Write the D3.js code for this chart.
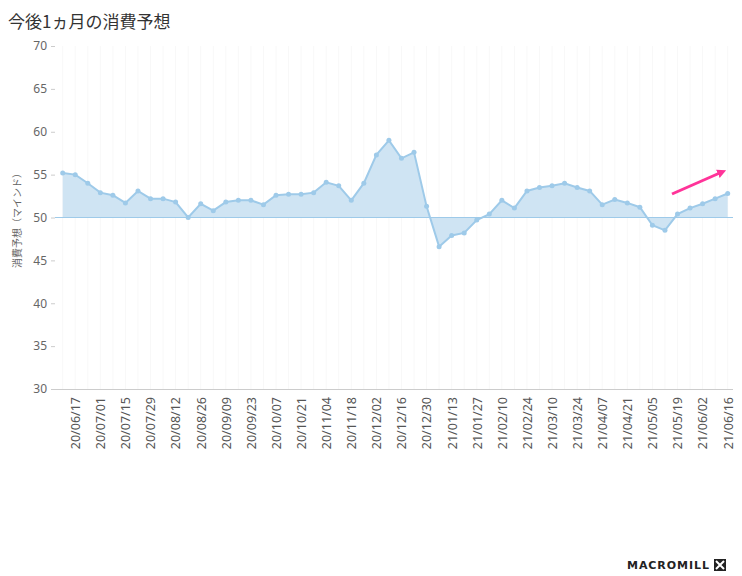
<!DOCTYPE html><html><head><meta charset="utf-8"><script src="https://cdn.jsdelivr.net/npm/d3@7"></script>
<style>body{margin:0;background:#fff;font-family:"Noto Sans CJK JP","Noto Sans",sans-serif}</style></head><body><svg id="c" width="742" height="576"></svg>
<script>
const values=[55.2,55.0,54.0,52.9,52.6,51.7,53.1,52.2,52.2,51.8,50.0,51.6,50.8,51.8,52.0,52.0,51.5,52.6,52.7,52.7,52.9,54.1,53.7,52.0,54.0,57.3,59.0,56.9,57.6,51.3,46.6,47.9,48.2,49.7,50.4,52.0,51.1,53.1,53.5,53.7,54.0,53.5,53.1,51.5,52.1,51.7,51.2,49.1,48.5,50.4,51.1,51.6,52.2,52.8];
const start=new Date(2020,5,10);
const dates=values.map((v,i)=>new Date(start.getTime()+i*7*864e5));
const yTicks=[30,35,40,45,50,55,60,65,70];
const fmt=d3.timeFormat("%y/%m/%d");
const svg=d3.select("#c");
const x=d3.scaleLinear().domain([0,values.length-1]).range([62.7,727.7]);
const y=d3.scaleLinear().domain([30,70]).range([389,46]);
svg.append("text").attr("x",8).attr("y",28).attr("font-size",17).attr("fill","#333").text("今後1ヵ月の消費予想");
svg.append("g").selectAll("line").data(values.map((v,i)=>i)).join("line").attr("x1",x).attr("x2",x).attr("y1",46).attr("y2",389).attr("stroke","#f8f8f8");
const area=d3.area().x((d,i)=>x(i)).y0(y(50)).y1(d=>y(d));
svg.append("path").datum(values).attr("d",area).attr("fill","#cfe4f3");
svg.append("line").attr("x1",55).attr("x2",733).attr("y1",y(50)).attr("y2",y(50)).attr("stroke","#9ecae9");
svg.append("line").attr("x1",55).attr("x2",733).attr("y1",389.5).attr("y2",389.5).attr("stroke","#ccc");
svg.append("path").datum(values).attr("d",d3.line().x((d,i)=>x(i)).y(d=>y(d))).attr("fill","none").attr("stroke","#9ecae9").attr("stroke-width",2);
svg.append("g").selectAll("circle").data(values).join("circle").attr("cx",(d,i)=>x(i)).attr("cy",d=>y(d)).attr("r",2.5).attr("fill","#9ecae9");
const ya=svg.append("g").attr("transform","translate(55,0)").call(d3.axisLeft(y).tickValues(yTicks).tickSize(4).tickPadding(4));
ya.select(".domain").remove();ya.selectAll("line").attr("stroke","#ccc");ya.selectAll("text").attr("fill","#666").attr("font-size",12).attr("font-family","Noto Sans");
const lab=values.map((v,i)=>i).filter(i=>i%2==1);
const xa=svg.append("g").attr("transform","translate(0,389)").call(d3.axisBottom(x).tickValues(lab).tickSize(0).tickFormat(i=>fmt(dates[i])));
xa.select(".domain").remove();
xa.selectAll("text").attr("transform","rotate(-90)").attr("text-anchor","end").attr("dx","-8").attr("dy","0.35em").attr("x",0).attr("y",0).attr("fill","#555").attr("font-size",12.5).attr("font-family","Noto Sans");
svg.append("text").attr("transform","translate(21,218) rotate(-90)").attr("text-anchor","middle").attr("font-size",10).attr("fill","#666").text("消費予想（マインド）");
svg.append("defs").append("marker").attr("id","ah").attr("viewBox","0 0 10 10").attr("refX",5).attr("refY",5).attr("markerWidth",3).attr("markerHeight",3).attr("orient","auto").append("path").attr("d","M0,0L10,5L0,10z").attr("fill","#ff3399");
svg.append("line").attr("x1",672).attr("y1",194).attr("x2",722).attr("y2",172).attr("stroke","#ff3399").attr("stroke-width",3).attr("marker-end","url(#ah)");
svg.append("text").attr("x",627).attr("y",569).attr("font-size",11).attr("font-weight","bold").attr("textLength",82).attr("fill","#222").attr("font-family","DejaVu Sans").text("MACROMILL");
svg.append("rect").attr("x",714).attr("y",559).attr("width",12).attr("height",12).attr("fill","#222");
svg.append("path").attr("d","M716,561L724,569M724,561L716,569").attr("stroke","#fff").attr("stroke-width",2);
</script></body></html>
